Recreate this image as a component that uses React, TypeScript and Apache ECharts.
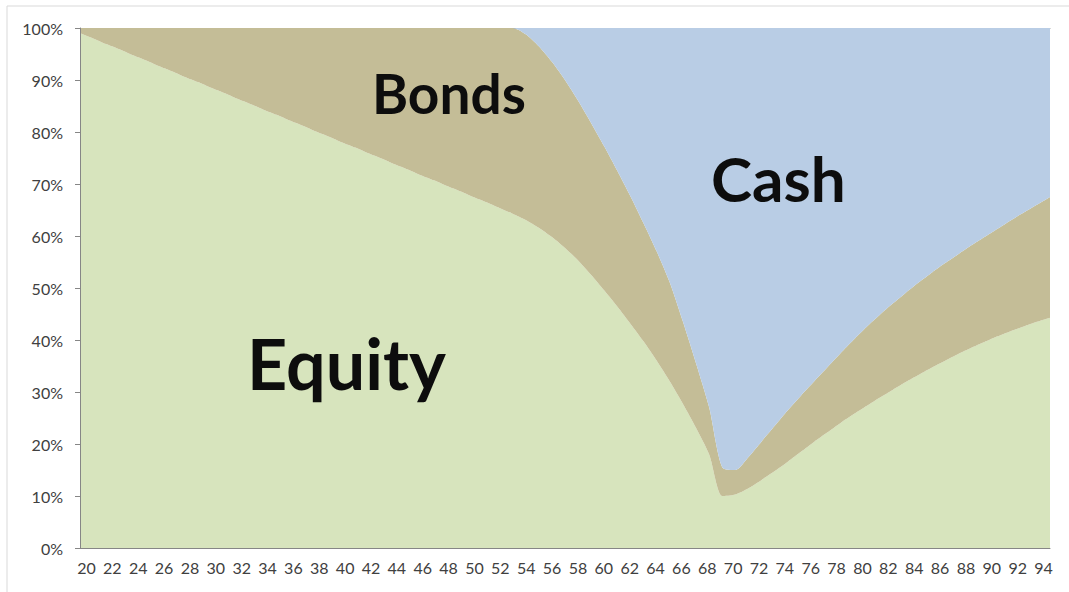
import React, { useEffect, useRef } from "react";
import * as echarts from "echarts";

const ages = [
  "20","21","22","23","24","25","26","27","28","29",
  "30","31","32","33","34","35","36","37","38","39",
  "40","41","42","43","44","45","46","47","48","49",
  "50","51","52","53","54","55","56","57","58","59",
  "60","61","62","63","64","65","66","67","68","69",
  "70","71","72","73","74","75","76","77","78","79",
  "80","81","82","83","84","85","86","87","88","89",
  "90","91","92","93","94",
];

const equity = [
  99.0, 98.0, 96.9, 95.9, 94.8, 93.8, 92.7, 91.7, 90.6, 89.6,
  88.5, 87.5, 86.4, 85.4, 84.3, 83.3, 82.2, 81.2, 80.1, 79.1,
  78.0, 77.0, 75.9, 74.9, 73.8, 72.8, 71.7, 70.7, 69.6, 68.6,
  67.5, 66.5, 65.4, 64.3, 63.1, 61.6, 59.8, 57.7, 55.3, 52.5,
  49.5, 46.4, 43.1, 39.7, 36.0, 32.0, 27.7, 23.1, 18.0, 10.0,
  10.3, 11.5, 13.1, 14.8, 16.6, 18.5, 20.4, 22.2, 24.0, 25.7,
  27.3, 28.9, 30.4, 31.9, 33.3, 34.7, 36.0, 37.3, 38.5, 39.6,
  40.7, 41.7, 42.6, 43.5, 44.3,
];

const bonds = [
  1.0, 2.0, 3.1, 4.1, 5.2, 6.2, 7.3, 8.3, 9.4, 10.4,
  11.5, 12.5, 13.6, 14.6, 15.7, 16.7, 17.8, 18.8, 19.9, 20.9,
  22.0, 23.0, 24.1, 25.1, 26.2, 27.2, 28.3, 29.3, 30.4, 31.4,
  32.5, 33.5, 34.6, 35.7, 35.7, 34.9, 33.7, 32.3, 30.7, 29.2,
  27.7, 26.1, 24.5, 22.7, 21.0, 19.0, 15.8, 12.4, 9.0, 5.5,
  4.7, 6.0, 7.4, 8.7, 9.9, 10.8, 11.6, 12.5, 13.4, 14.3,
  15.2, 15.9, 16.6, 17.2, 17.8, 18.3, 18.8, 19.2, 19.7, 20.2,
  20.7, 21.3, 21.9, 22.5, 23.2,
];

const cash = [
  0, 0, 0, 0, 0, 0, 0, 0, 0, 0,
  0, 0, 0, 0, 0, 0, 0, 0, 0, 0,
  0, 0, 0, 0, 0, 0, 0, 0, 0, 0,
  0, 0, 0, 0, 1.2, 3.5, 6.5, 10.0, 14.0, 18.3,
  22.8, 27.5, 32.4, 37.6, 43.0, 49.0, 56.5, 64.5, 73.0, 84.5,
  85.0, 82.5, 79.5, 76.5, 73.5, 70.7, 68.0, 65.3, 62.6, 60.0,
  57.5, 55.2, 53.0, 50.9, 48.9, 47.0, 45.2, 43.5, 41.8, 40.2,
  38.6, 37.0, 35.5, 34.0, 32.5,
];

const seriesNames = ["Equity", "Bonds", "Cash"];
const colors = ["#d7e4bd", "#c4bd97", "#b9cde5"];

export default function App() {
  const ref = useRef<HTMLDivElement>(null);
  useEffect(() => {
    if (!ref.current) return;
    const chart = echarts.init(ref.current, undefined, { renderer: "svg" });
    const values = [equity, bonds, cash];
    chart.setOption({
      animation: false,
      backgroundColor: "#ffffff",
      grid: { left: 80, right: 19, top: 28, bottom: 44 },
      xAxis: [
        {
          type: "category",
          data: ages,
          boundaryGap: true,
          axisLine: { lineStyle: { color: "#868686", width: 1 } },
          axisTick: { interval: 0, length: 4, lineStyle: { color: "#868686" } },
          axisLabel: {
            interval: 1,
            color: "#404040",
            fontSize: 16,
            fontFamily: "Lato",
            margin: 11,
          },
          z: 10,
        },
        {
          type: "category",
          data: ages,
          boundaryGap: false,
          position: "top",
          axisLine: { show: true, lineStyle: { color: "#9a9a9a", width: 1 } },
          axisTick: { show: false },
          axisLabel: { show: false },
          splitLine: { show: false },
        },
      ],
      yAxis: {
        type: "value",
        min: 0,
        max: 100,
        interval: 10,
        axisLine: { show: true, lineStyle: { color: "#868686" } },
        axisTick: { show: true, length: 5, lineStyle: { color: "#868686" } },
        splitLine: { show: false },
        axisLabel: {
          formatter: "{value}%",
          color: "#404040",
          fontSize: 16,
          fontFamily: "Lato",
          margin: 17,
        },
        z: 10,
      },
      series: seriesNames.map((name, i) => ({
        name,
        type: "line",
        xAxisIndex: 1,
        stack: "total",
        symbol: "none",
        smooth: 0.25,
        lineStyle: { width: 0 },
        areaStyle: { color: colors[i], opacity: 1 },
        data: values[i],
      })),
      graphic: [
        {
          type: "rect",
          shape: { x: 7, y: 6, width: 1200, height: 800 },
          style: { fill: "none", stroke: "#d9d9d9", lineWidth: 1 },
          silent: true,
        },
        {
          type: "text",
          left: 372,
          top: 65,
          z: 100,
          style: { text: "Bonds", font: "bold 55px Lato", fill: "#0d0d0d" },
        },
        {
          type: "text",
          left: 711,
          top: 147,
          z: 100,
          style: { text: "Cash", font: "bold 62px Lato", fill: "#0d0d0d" },
        },
        {
          type: "text",
          left: 247,
          top: 328,
          z: 100,
          style: { text: "Equity", font: "bold 70px Lato", fill: "#0d0d0d" },
        },
      ],
    });
    return () => chart.dispose();
  }, []);
  return (
    <div
      ref={ref}
      style={{ position: "fixed", left: 0, top: 0, width: 1069, height: 592, background: "#fff" }}
    />
  );
}
